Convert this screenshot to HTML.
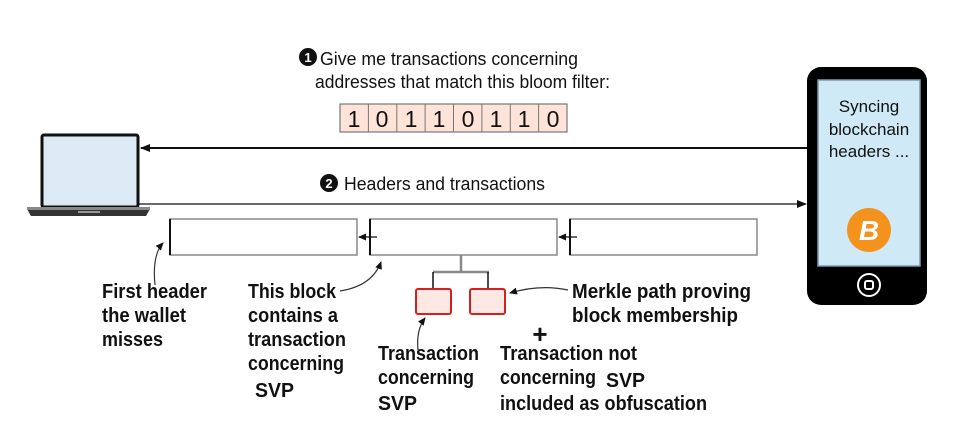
<!DOCTYPE html>
<html><head><meta charset="utf-8"><style>
html,body{margin:0;padding:0;background:#fff;width:953px;height:435px;overflow:hidden}
svg{display:block}
.s{font-family:"Liberation Sans",Arial,sans-serif;fill:#111}
.b{font-family:"Liberation Sans",Arial,sans-serif;font-weight:bold;fill:#111;font-size:20px}
</style></head><body>
<svg width="953" height="435" viewBox="0 0 953 435" xmlns="http://www.w3.org/2000/svg">
<defs>
<marker id="ah" markerWidth="10" markerHeight="8" refX="9" refY="4" orient="auto" markerUnits="userSpaceOnUse"><path d="M0,0 L10,4 L0,8 z" fill="#111"/></marker>
<marker id="sa" markerWidth="8" markerHeight="7" refX="7" refY="3.5" orient="auto" markerUnits="userSpaceOnUse"><path d="M0,0 L8,3.5 L0,7 z" fill="#111"/></marker>
</defs>
<circle cx="308" cy="57" r="9" fill="#111"/><text x="308" y="62" font-size="13" font-weight="bold" fill="#fff" text-anchor="middle" font-family="Liberation Sans">1</text>
<text class="s" x="320" y="65" font-size="18" textLength="258" lengthAdjust="spacingAndGlyphs">Give me transactions concerning</text>
<text class="s" x="315" y="88" font-size="18" textLength="295" lengthAdjust="spacingAndGlyphs">addresses that match this bloom filter:</text>
<g>
<rect x="340" y="104" width="227" height="28" fill="#fde3d8" stroke="#777" stroke-width="1.2"/>
<g stroke="#777" stroke-width="1">
<line x1="368.4" y1="104" x2="368.4" y2="132"/><line x1="396.8" y1="104" x2="396.8" y2="132"/><line x1="425.1" y1="104" x2="425.1" y2="132"/><line x1="453.5" y1="104" x2="453.5" y2="132"/><line x1="481.9" y1="104" x2="481.9" y2="132"/><line x1="510.3" y1="104" x2="510.3" y2="132"/><line x1="538.6" y1="104" x2="538.6" y2="132"/>
</g>
<g font-family="Liberation Sans,sans-serif" font-size="23" fill="#111" text-anchor="middle">
<text x="354" y="127">1</text><text x="382" y="127">0</text><text x="411" y="127">1</text><text x="439" y="127">1</text><text x="468" y="127">0</text><text x="496" y="127">1</text><text x="524" y="127">1</text><text x="553" y="127">0</text>
</g>
</g>
<line x1="807" y1="148" x2="141" y2="148" stroke="#111" stroke-width="2" marker-end="url(#ah)"/>
<line x1="139" y1="204" x2="806" y2="204" stroke="#111" stroke-width="1.3" marker-end="url(#ah)"/>
<circle cx="329" cy="183" r="9" fill="#111"/><text x="329" y="188" font-size="13" font-weight="bold" fill="#fff" text-anchor="middle" font-family="Liberation Sans">2</text>
<text class="s" x="344" y="190" font-size="18" textLength="201" lengthAdjust="spacingAndGlyphs">Headers and transactions</text>
<rect x="42" y="135" width="96" height="72" rx="2" fill="#dbeaf4" stroke="#111" stroke-width="3"/>
<path d="M27,209 L150,209 L146,216 L31,216 z" fill="#333"/>
<rect x="27" y="207" width="123" height="3" fill="#888"/>
<rect x="78" y="211" width="22" height="2" fill="#999"/>
<rect x="807" y="67" width="120" height="238" rx="14" fill="#000"/>
<rect x="818" y="80" width="102" height="186" fill="#cfe9f7" stroke="#7a9aaa" stroke-width="1.5"/>
<text class="s" x="869" y="112" font-size="17" text-anchor="middle">Syncing</text>
<text class="s" x="869" y="135" font-size="17" text-anchor="middle">blockchain</text>
<text class="s" x="869" y="157" font-size="17" text-anchor="middle">headers ...</text>
<circle cx="869" cy="230" r="22" fill="#f3921c"/>
<text x="869" y="240" font-family="Liberation Sans" font-weight="bold" font-style="italic" font-size="28" fill="#fff" text-anchor="middle">B</text>
<circle cx="869" cy="285" r="11" fill="none" stroke="#fff" stroke-width="2"/>
<rect x="865" y="281" width="8" height="8" rx="2" fill="none" stroke="#fff" stroke-width="2"/>
<rect x="170" y="219" width="187" height="36" fill="#fff" stroke="#888" stroke-width="1.5"/>
<rect x="370" y="219" width="187" height="36" fill="#fff" stroke="#888" stroke-width="1.5"/>
<rect x="570" y="219" width="187" height="36" fill="#fff" stroke="#888" stroke-width="1.5"/>
<line x1="170" y1="219" x2="170" y2="255" stroke="#111" stroke-width="2"/>
<line x1="370" y1="219" x2="370" y2="255" stroke="#111" stroke-width="2"/>
<line x1="570" y1="219" x2="570" y2="255" stroke="#111" stroke-width="2"/>
<line x1="377" y1="237" x2="359" y2="237" stroke="#111" stroke-width="1.2" marker-end="url(#sa)"/>
<line x1="577" y1="237" x2="559" y2="237" stroke="#111" stroke-width="1.2" marker-end="url(#sa)"/>
<path d="M461,255 V272 M433,272 H489" stroke="#888" stroke-width="2.5" fill="none"/>
<path d="M433,272 V289 M488,272 V289" stroke="#111" stroke-width="1.5" fill="none"/>
<rect x="416" y="289" width="35" height="25" rx="2" fill="#fde8e4" stroke="#d42020" stroke-width="2"/>
<rect x="470" y="289" width="35" height="25" rx="2" fill="#fde8e4" stroke="#d42020" stroke-width="2"/>
<g fill="none" stroke="#333" stroke-width="1.2">
<path d="M155,285 Q152,255 163,243" marker-end="url(#sa)"/>
<path d="M340,291 Q372,286 381,262" marker-end="url(#sa)"/>
<path d="M418,350 Q416,330 425,318" marker-end="url(#sa)"/>
<path d="M568,290 Q540,284 510,293" marker-end="url(#sa)"/>
</g>
<g lengthAdjust="spacingAndGlyphs">
<text class="b" x="102" y="298" textLength="105" lengthAdjust="spacingAndGlyphs">First header</text>
<text class="b" x="102" y="322" textLength="84" lengthAdjust="spacingAndGlyphs">the wallet</text>
<text class="b" x="102" y="346" textLength="61" lengthAdjust="spacingAndGlyphs">misses</text>
<text class="b" x="248" y="298" textLength="88" lengthAdjust="spacingAndGlyphs">This block</text>
<text class="b" x="248" y="322" textLength="90" lengthAdjust="spacingAndGlyphs">contains a</text>
<text class="b" x="248" y="346" textLength="98" lengthAdjust="spacingAndGlyphs">transaction</text>
<text class="b" x="248" y="370" textLength="96" lengthAdjust="spacingAndGlyphs">concerning</text>
<text class="b" x="255" y="397" textLength="39" lengthAdjust="spacingAndGlyphs">SVP</text>
<text class="b" x="572" y="298" textLength="179" lengthAdjust="spacingAndGlyphs">Merkle path proving</text>
<text class="b" x="572" y="322" textLength="166" lengthAdjust="spacingAndGlyphs">block membership</text>
<text x="540" y="343" font-family="Liberation Sans" font-weight="bold" font-size="26" fill="#111" text-anchor="middle">+</text>
<text class="b" x="378" y="360" textLength="101" lengthAdjust="spacingAndGlyphs">Transaction</text>
<text class="b" x="378" y="384" textLength="96" lengthAdjust="spacingAndGlyphs">concerning</text>
<text class="b" x="378" y="410" textLength="39" lengthAdjust="spacingAndGlyphs">SVP</text>
<text class="b" x="500" y="360" textLength="137" lengthAdjust="spacingAndGlyphs">Transaction not</text>
<text class="b" x="500" y="384" textLength="96" lengthAdjust="spacingAndGlyphs">concerning</text>
<text class="b" x="606" y="387" textLength="39" lengthAdjust="spacingAndGlyphs">SVP</text>
<text class="b" x="500" y="410" textLength="207" lengthAdjust="spacingAndGlyphs">included as obfuscation</text>
</g>
</svg>
</body></html>
